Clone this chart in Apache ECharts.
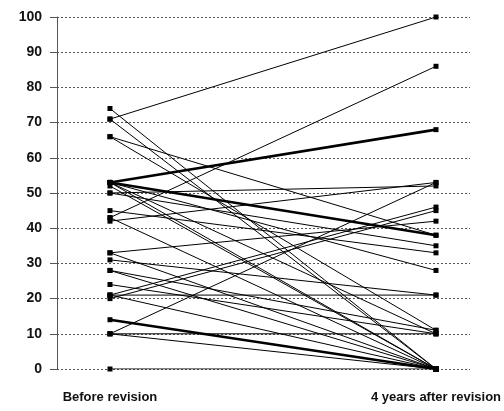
<!DOCTYPE html>
<html>
<head>
<meta charset="utf-8">
<script src="https://cdn.jsdelivr.net/npm/echarts@6/dist/echarts.min.js"></script>
<style>
  html, body { margin: 0; padding: 0; background: #fff; }
  #chart { width: 504px; height: 411px; }
</style>
</head>
<body>
<div id="chart"></div>
<script>
// Paired scores per patient: before revision and 4 years after revision
const categories = ['Before revision', '4 years after revision'];
const beforeScores = [74, 71, 71, 66, 66, 53, 53, 53, 53, 52, 53, 50, 50, 45, 43, 42, 43, 33, 31, 33, 28, 28, 24, 21, 21, 20, 21, 14, 10, 10, 10, 0];
const afterScores  = [0, 100, 0, 38, 11, 68, 38, 28, 0, 0, 10, 52, 35, 33, 86, 53, 0, 42, 21, 0, 11, 0, 10, 46, 0, 45, 21, 0, 53, 10, 0, 0];
// patients whose lines are drawn heavier
const thickLines = [5, 6, 27];
const yTicks = [0, 10, 20, 30, 40, 50, 60, 70, 80, 90, 100];

const font = '"Liberation Sans", Arial, Helvetica, sans-serif';

const series = beforeScores.map((b, i) => ({
  type: 'line',
  data: [[0, b], [1, afterScores[i]]],
  symbol: 'rect',
  symbolSize: 5,
  showSymbol: true,
  itemStyle: { color: '#000' },
  lineStyle: { color: '#000', width: thickLines.includes(i) ? 2.6 : 1 },
  emphasis: { disabled: true },
  animation: false,
  z: thickLines.includes(i) ? 3 : 2
}));

const chart = echarts.init(document.getElementById('chart'), null, { renderer: 'canvas' });
chart.setOption({
  backgroundColor: '#fff',
  animation: false,
  grid: { left: 57, right: 34, top: 17, bottom: 42, containLabel: false, outerBoundsMode: 'none' },
  xAxis: {
    type: 'value',
    min: -0.1625,
    max: 1.1043,
    axisLine: { show: false },
    axisTick: { show: false },
    splitLine: { show: false },
    axisLabel: {
      customValues: [0, 1],
      formatter: v => categories[Math.round(v)],
      color: '#111',
      fontFamily: font,
      fontWeight: 'bold',
      fontSize: 13,
      margin: 22,
      hideOverlap: false
    }
  },
  yAxis: {
    type: 'value',
    min: 0,
    max: 100,
    interval: 10,
    axisLine: { show: true, onZero: false, lineStyle: { color: '#555', width: 1 } },
    axisTick: { show: true, length: 7, lineStyle: { color: '#555' } },
    axisLabel: {
      formatter: v => (yTicks.includes(v) ? String(v) : ''),
      color: '#111',
      fontFamily: font,
      fontWeight: 'bold',
      fontSize: 14,
      margin: 15
    },
    splitLine: { show: true, lineStyle: { color: '#555', type: [2, 2], width: 1 } }
  },
  series: series
});
</script>
</body>
</html>
